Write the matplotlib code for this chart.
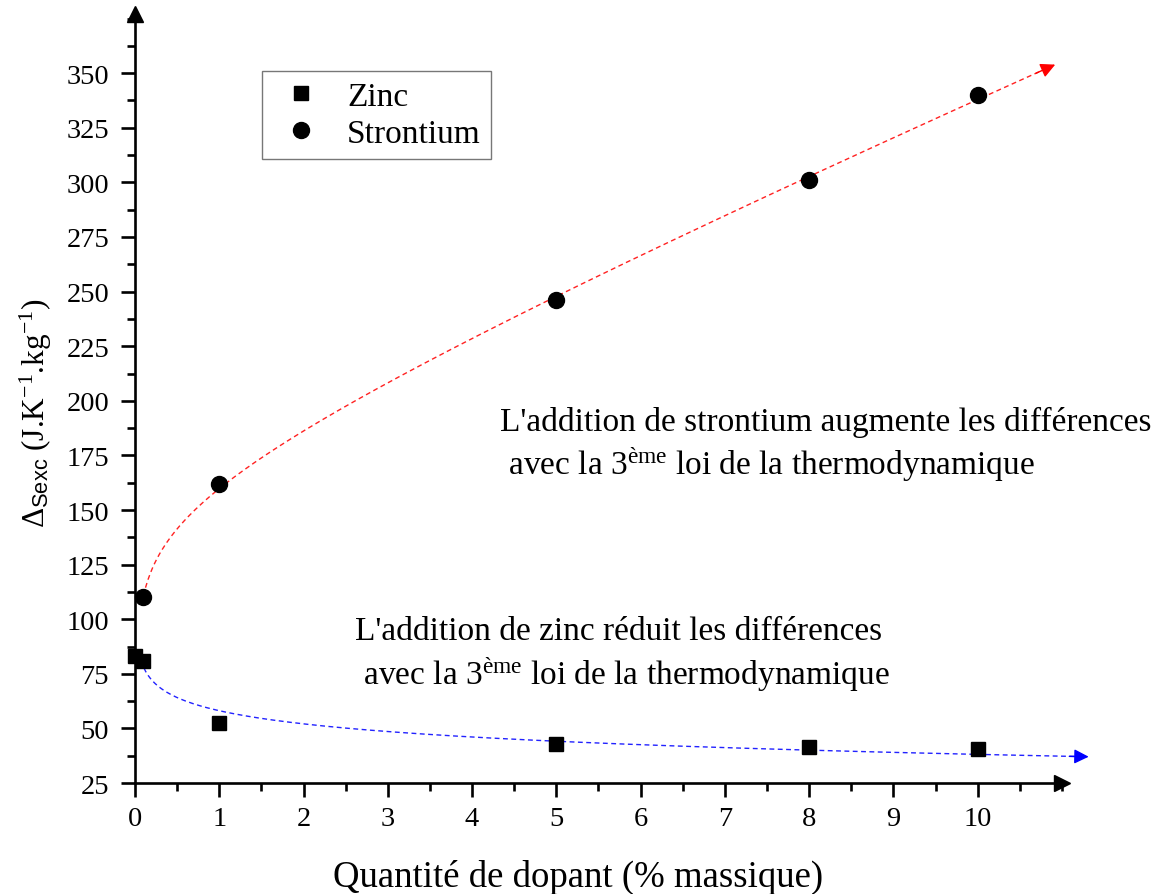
import numpy as np
import matplotlib
matplotlib.use("Agg")
import matplotlib.pyplot as plt
import matplotlib.transforms as mtransforms
from matplotlib.ticker import MultipleLocator

SERIF = 'Liberation Serif'
plt.rcParams['font.family'] = [SERIF, 'DejaVu Serif']
plt.rcParams['mathtext.fontset'] = 'custom'
plt.rcParams['mathtext.rm'] = SERIF
plt.rcParams['mathtext.it'] = SERIF + ':italic'
plt.rcParams['mathtext.sf'] = 'Liberation Sans'

# Data
zinc_x = [0, 0.1, 1, 5, 8, 10]
zinc_y = [83, 81, 52.5, 43, 41.5, 40.5]
sr_x = [0.1, 1, 5, 8, 10]
sr_y = [110, 162, 246, 301, 340]
yticks = list(range(25, 351, 25))
xticks = list(range(0, 11))


def log_fit(x, y, linear=False):
    x = np.asarray(x, float)
    y = np.asarray(y, float)
    m = x > 0
    x, y = x[m], y[m]
    cols = [np.ones_like(x), np.log(x)]
    if linear:
        cols.append(x)
    A = np.vstack(cols).T
    coef, *_ = np.linalg.lstsq(A, y, rcond=None)
    return coef


def log_eval(coef, x):
    out = coef[0] + coef[1] * np.log(x)
    if len(coef) > 2:
        out = out + coef[2] * x
    return out


fig = plt.figure(figsize=(11.61, 8.95), dpi=100)
ax = fig.add_axes([0.1163, 0.124, 0.7984, 0.859])

# guide (fit) curves
zc = log_fit(zinc_x, zinc_y)
xs = np.linspace(0.07, 11.25, 400)
ys = log_eval(zc, xs)
ax.plot(xs, ys, ls=(0, (3.5, 2.5)), color='#2222ff', lw=1, clip_on=False, zorder=2)
ax.annotate('', xy=(xs[-1] + 0.1, log_eval(zc, xs[-1] + 0.1)), xytext=(xs[-8], ys[-8]),
            arrowprops=dict(arrowstyle='-|>', color='blue', lw=1, mutation_scale=22),
            annotation_clip=False)

sc = log_fit(sr_x, sr_y, linear=True)
xs2 = np.linspace(0.1, 10.85, 400)
ys2 = log_eval(sc, xs2)
ax.plot(xs2, ys2, ls=(0, (3.5, 2.5)), color='#ff2222', lw=1, clip_on=False, zorder=2)
ax.annotate('', xy=(xs2[-1] + 0.1, log_eval(sc, xs2[-1] + 0.1)), xytext=(xs2[-8], ys2[-8]),
            arrowprops=dict(arrowstyle='-|>', color='red', lw=1, mutation_scale=22),
            annotation_clip=False)

ax.plot(zinc_x, zinc_y, ls='none', marker='s', color='black', ms=10.5, label='Zinc', clip_on=False, zorder=3)
ax.plot(sr_x, sr_y, ls='none', marker='o', color='black', ms=11.5, label='Strontium', clip_on=False, zorder=3)

ax.set_xlim(0, 11.0)
ax.set_ylim(25, 377)
ax.spines['top'].set_visible(False)
ax.spines['right'].set_visible(False)
for s in ('left', 'bottom'):
    ax.spines[s].set_linewidth(1.9)
ax.plot([1], [0], marker='>', color='black', ms=12, transform=ax.transAxes, clip_on=False)
ax.plot([0], [1], marker='^', color='black', ms=12, transform=ax.transAxes, clip_on=False)

ax.set_xticks(xticks)
ax.set_yticks(yticks)
ax.xaxis.set_minor_locator(MultipleLocator(0.5))
ax.yaxis.set_minor_locator(MultipleLocator(12.5))
ax.tick_params(which='major', direction='out', length=10, width=1.9,
               labelbottom=False, labelleft=False)
ax.tick_params(which='minor', direction='out', length=5.5, width=1.9)

# tick labels as serif text
tx = mtransforms.blended_transform_factory(ax.transData, ax.transAxes)
ty = mtransforms.blended_transform_factory(ax.transAxes, ax.transData)
for v in xticks:
    ax.text(v, -0.030, str(v), transform=tx, ha='center', va='top',
            fontsize=20.5, fontfamily=SERIF, clip_on=False)
for v in yticks:
    ax.text(-0.028, v, str(v), transform=ty, ha='right', va='center_baseline',
            fontsize=20.5, fontfamily=SERIF, clip_on=False)

ax.set_xlabel('Quantité de dopant (% massique)', fontsize=26.5, fontfamily=SERIF)
ax.xaxis.set_label_coords(0.478, -0.099)
ax.set_ylabel('Δ$_{\\mathsf{Sexc}}$ (J.K$^{\\mathregular{-1}}$.kg$^{\\mathregular{-1}}$)',
              fontsize=22.5, fontfamily=SERIF)
ax.yaxis.set_label_coords(-0.087, 0.482)

leg = ax.legend(loc='upper left', bbox_to_anchor=(0.137, 0.926), borderaxespad=0,
                prop={'family': SERIF, 'size': 24}, frameon=True, fancybox=False,
                edgecolor='#555555', handlelength=1.75, handletextpad=0.5,
                borderpad=0.3, labelspacing=0.2)
leg.get_frame().set_linewidth(1.0)

ax.text(4.33, 180, "L'addition de strontium augmente les différences\n"
        " avec la 3$^{\\mathregular{ème}}$ loi de la thermodynamique",
        fontsize=24, fontfamily=SERIF, ha='left', va='center', linespacing=1.25)
ax.text(2.61, 84, "L'addition de zinc réduit les différences\n"
        " avec la 3$^{\\mathregular{ème}}$ loi de la thermodynamique",
        fontsize=24, fontfamily=SERIF, ha='left', va='center', linespacing=1.25)

fig.savefig('out.png', dpi=100)
